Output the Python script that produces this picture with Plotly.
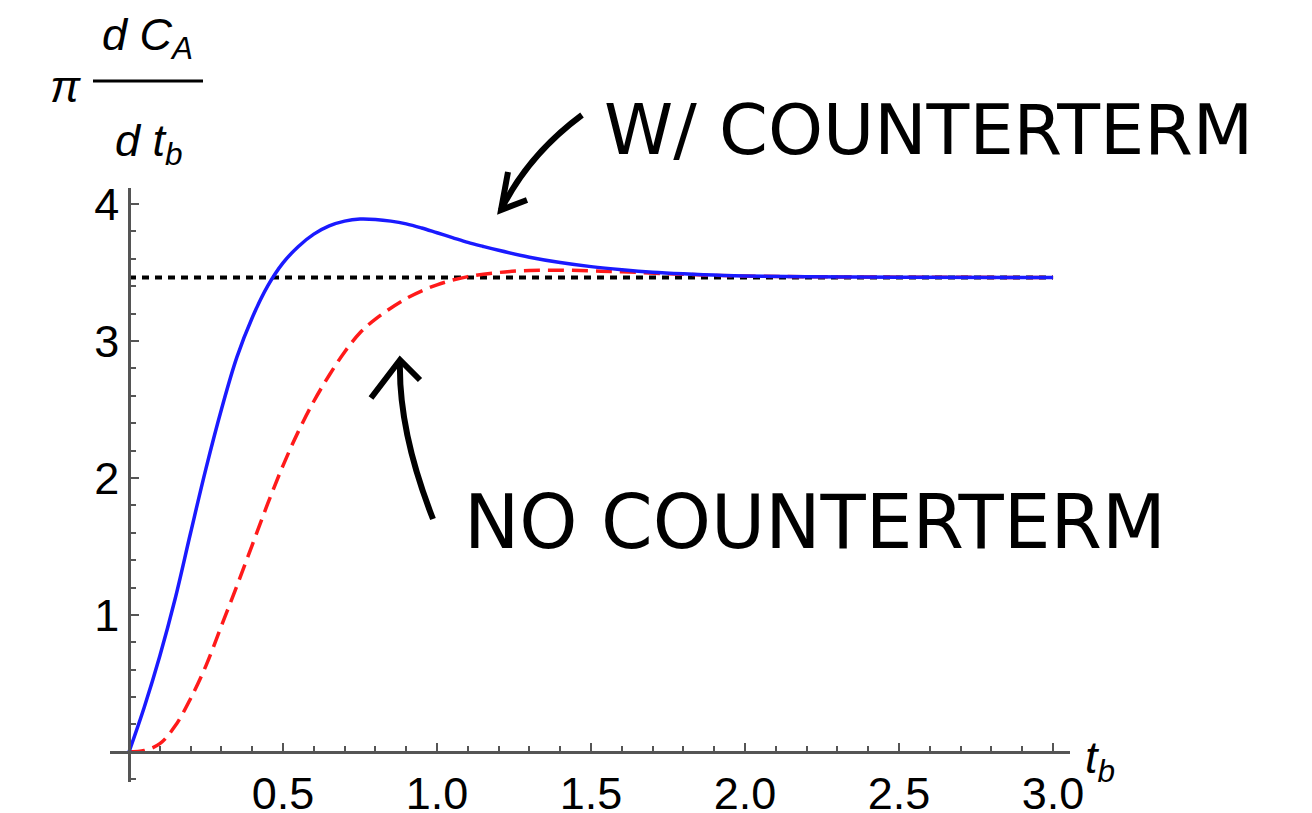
import plotly.graph_objects as go

# ---------------- data ----------------
t_with = [0, 0.05, 0.1, 0.15, 0.2, 0.25, 0.3, 0.35, 0.4, 0.45, 0.5, 0.55, 0.6, 0.65, 0.7, 0.75, 0.8,
          0.85, 0.9, 0.95, 1.0, 1.05, 1.1, 1.15, 1.2, 1.3, 1.4, 1.5, 1.6, 1.7, 1.8, 1.9, 2.0, 2.2, 2.5, 3.0]
y_with = [0, 0.33, 0.70, 1.12, 1.60, 2.07, 2.50, 2.88, 3.17, 3.40, 3.57, 3.69, 3.78, 3.84, 3.875, 3.89, 3.887,
          3.875, 3.855, 3.825, 3.79, 3.755, 3.72, 3.69, 3.662, 3.612, 3.573, 3.543, 3.52, 3.502, 3.49, 3.481,
          3.475, 3.469, 3.465, 3.464]

t_no = [0, 0.05, 0.1, 0.15, 0.2, 0.25, 0.3, 0.35, 0.4, 0.45, 0.5, 0.55, 0.6, 0.65, 0.7, 0.75, 0.8,
        0.9, 1.0, 1.1, 1.2, 1.3, 1.4, 1.5, 1.6, 1.8, 2.0, 2.5, 3.0]
y_no = [0, 0.01, 0.06, 0.19, 0.39, 0.63, 0.92, 1.21, 1.51, 1.81, 2.09, 2.34, 2.56, 2.75, 2.92, 3.06, 3.16,
        3.31, 3.41, 3.47, 3.50, 3.515, 3.517, 3.512, 3.505, 3.487, 3.474, 3.466, 3.464]

t_asym = [0, 3.0]
y_asym = [3.464, 3.464]

x_tickvals = [0.5, 1.0, 1.5, 2.0, 2.5, 3.0]
x_ticktext = ["0.5", "1.0", "1.5", "2.0", "2.5", "3.0"]
y_tickvals = [1, 2, 3, 4]
y_ticktext = ["1", "2", "3", "4"]

X_RANGE = [-0.0617, 3.055]
Y_RANGE = [-0.22, 4.117]

# ---------------- figure ----------------
W, H = 1312, 813
ML, MR, MT, MB = 110, 242, 188, 31
PW, PH = W - ML - MR, H - MT - MB

fig = go.Figure()
fig.add_trace(go.Scatter(x=t_asym, y=y_asym, mode="lines",
                         line=dict(color="black", width=4, dash="7px,6px"), hoverinfo="skip"))
fig.add_trace(go.Scatter(x=t_no, y=y_no, mode="lines", line_shape="spline",
                         line=dict(color="#ff1a1a", width=3.5, dash="16px,8px")))
fig.add_trace(go.Scatter(x=t_with, y=y_with, mode="lines", line_shape="spline",
                         line=dict(color="#1a1aff", width=3.5)))

xpos = (0 - Y_RANGE[0]) / (Y_RANGE[1] - Y_RANGE[0])
ypos = (0 - X_RANGE[0]) / (X_RANGE[1] - X_RANGE[0])

axis_col = "#555555"
tickfont = dict(family="Liberation Sans, Arial", size=45, color="black")

fig.update_layout(
    width=W, height=H,
    margin=dict(l=ML, r=MR, t=MT, b=MB, autoexpand=False),
    paper_bgcolor="white", plot_bgcolor="white",
    showlegend=False,
    xaxis=dict(range=X_RANGE, anchor="free", position=xpos, showgrid=False, zeroline=False,
               automargin=False,
               showline=True, linecolor=axis_col, linewidth=2.5,
               tickmode="array", tickvals=x_tickvals, ticktext=x_ticktext,
               ticks="inside", ticklen=8, tickwidth=1.5, tickcolor=axis_col,
               tickfont=tickfont, ticklabelstandoff=1,
               minor=dict(ticks="inside", dtick=0.1, tick0=0, ticklen=5, tickwidth=1.5, tickcolor=axis_col)),
    yaxis=dict(range=Y_RANGE, anchor="free", position=ypos, showgrid=False, zeroline=False,
               automargin=False,
               showline=True, linecolor=axis_col, linewidth=2.5,
               tickmode="array", tickvals=y_tickvals, ticktext=y_ticktext,
               ticks="inside", ticklen=8, tickwidth=1.5, tickcolor=axis_col,
               tickfont=tickfont,
               minor=dict(ticks="inside", dtick=0.2, tick0=0, ticklen=5, tickwidth=1.5, tickcolor=axis_col)),
)


def px(xp):
    return (xp - ML) / PW


def py(yp):
    return (H - MB - yp) / PH


def pt(xp, yp):
    return f"{px(xp):.5f},{py(yp):.5f}"


def note(text, xp, yp, font):
    fig.add_annotation(text=text, xref="paper", yref="paper", x=px(xp), y=py(yp),
                       xanchor="center", yanchor="middle", showarrow=False, font=font)


# axis labels
lab_font = dict(family="Liberation Sans, Arial", size=45, color="black")
note("<i>t<sub>b</sub></i>", 1100, 760, lab_font)
note("<i>π</i>", 65, 86, lab_font)
note("<i>d C<sub>A</sub></i>", 147, 38, lab_font)
note("<i>d t<sub>b</sub></i>", 149, 144, lab_font)
fig.add_shape(type="line", xref="paper", yref="paper",
              x0=px(93), y0=py(81), x1=px(203), y1=py(81),
              line=dict(color="black", width=3))

# handwritten-style notes
note("W/ COUNTERTERM", 928, 130, dict(family="DejaVu Sans", size=70, color="black"))
note("NO COUNTERTERM", 815, 522, dict(family="DejaVu Sans", size=74, color="black"))

# hand-drawn arrows
stroke = dict(color="black", width=6)
fig.add_shape(type="path", xref="paper", yref="paper",
              path=f"M {pt(582,115)} Q {pt(528,155)} {pt(501,210)}", line=stroke)
fig.add_shape(type="path", xref="paper", yref="paper",
              path=f"M {pt(508,172)} L {pt(501,210)} L {pt(527,200)}", line=stroke)
fig.add_shape(type="path", xref="paper", yref="paper",
              path=f"M {pt(433,519)} Q {pt(398,430)} {pt(400,360)}", line=stroke)
fig.add_shape(type="path", xref="paper", yref="paper",
              path=f"M {pt(371,398)} L {pt(400,360)} L {pt(420,380)}", line=stroke)

fig.write_html("out.html")
